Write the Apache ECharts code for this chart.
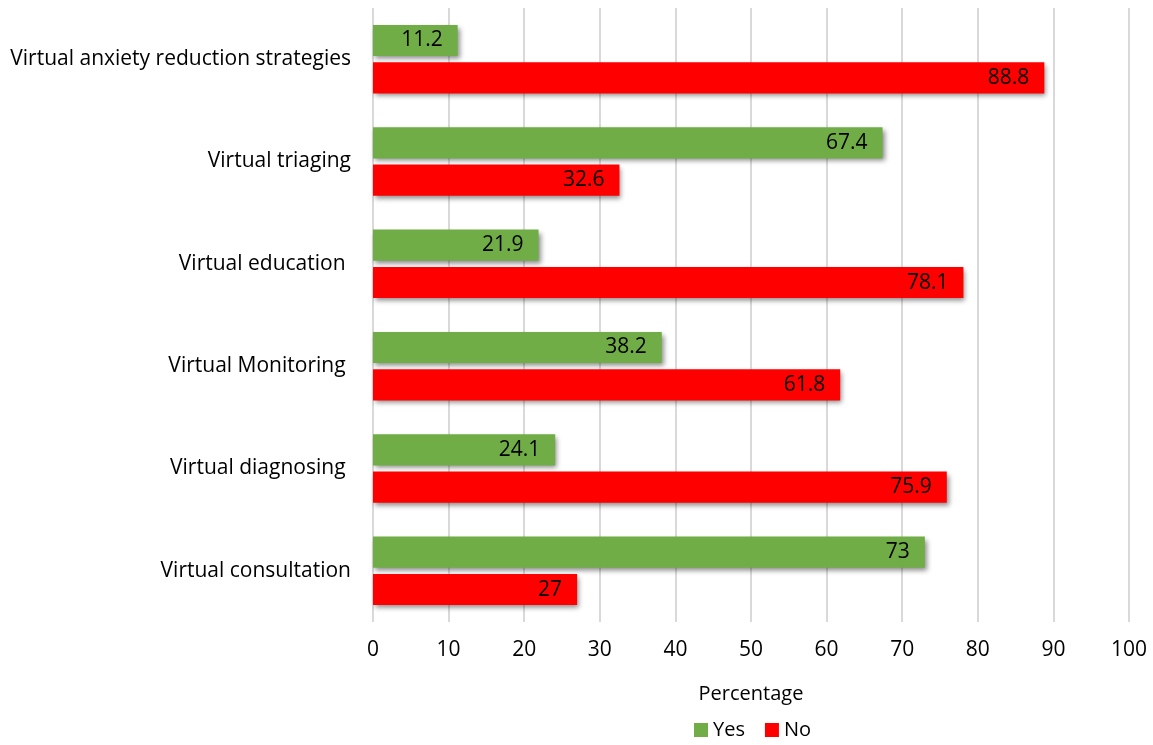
<!DOCTYPE html>
<html>
<head>
<meta charset="utf-8">
<script src="https://cdn.jsdelivr.net/npm/echarts@6/dist/echarts.min.js"></script>
<style>
  html, body { margin: 0; padding: 0; background: #fff; }
  #chart { width: 1153px; height: 745px; }
</style>
</head>
<body>
<div id="chart"></div>
<script>
// Services, listed top to bottom
const categories = [
  'Virtual anxiety reduction strategies',
  'Virtual triaging',
  'Virtual education ',
  'Virtual Monitoring ',
  'Virtual diagnosing ',
  'Virtual consultation'
];
const yesValues = [11.2, 67.4, 21.9, 38.2, 24.1, 73];
const noValues = [88.8, 32.6, 78.1, 61.8, 75.9, 27];
const xTicks = { min: 0, max: 100, interval: 10 };

const FONT = '"Open Sans", "Liberation Sans", sans-serif';
const barShadow = {
  shadowBlur: 5,
  shadowOffsetX: 2,
  shadowOffsetY: 3,
  shadowColor: 'rgba(0,0,0,0.45)'
};

const chart = echarts.init(document.getElementById('chart'), null, { renderer: 'canvas' });
chart.setOption({
  animation: false,
  textStyle: { fontFamily: FONT },
  grid: { left: 373, right: 24, top: 8, bottom: 123, containLabel: false },
  legend: {
    bottom: 0,
    left: 689,
    itemWidth: 14,
    itemHeight: 14,
    itemGap: 20,
    icon: 'rect',
    textStyle: { fontSize: 20, color: '#000', fontFamily: FONT },
    data: ['Yes', 'No']
  },
  xAxis: {
    type: 'value',
    min: xTicks.min,
    max: xTicks.max,
    interval: xTicks.interval,
    name: 'Percentage',
    nameLocation: 'middle',
    nameGap: 62,
    nameTextStyle: { fontSize: 20, color: '#000', fontFamily: FONT },
    axisLine: { show: false },
    axisTick: { show: false },
    axisLabel: { fontSize: 21, color: '#000', margin: 18, fontFamily: FONT },
    splitLine: { show: true, lineStyle: { color: '#d9d9d9', width: 2 } }
  },
  yAxis: {
    type: 'category',
    inverse: true,
    data: categories,
    axisLine: { show: false },
    axisTick: { show: false },
    axisLabel: { fontSize: 21, color: '#000', margin: 22, fontFamily: FONT }
  },
  series: [
    {
      name: 'Yes',
      type: 'bar',
      data: yesValues,
      barGap: '20%',
      barCategoryGap: '33%',
      itemStyle: Object.assign({ color: '#70AD47' }, barShadow),
      label: {
        show: true, position: 'insideRight', distance: 15,
        color: '#000', fontSize: 21, fontFamily: FONT
      }
    },
    {
      name: 'No',
      type: 'bar',
      data: noValues,
      itemStyle: Object.assign({ color: '#FF0000' }, barShadow),
      label: {
        show: true, position: 'insideRight', distance: 15,
        color: '#000', fontSize: 21, fontFamily: FONT
      }
    }
  ]
});
</script>
</body>
</html>
